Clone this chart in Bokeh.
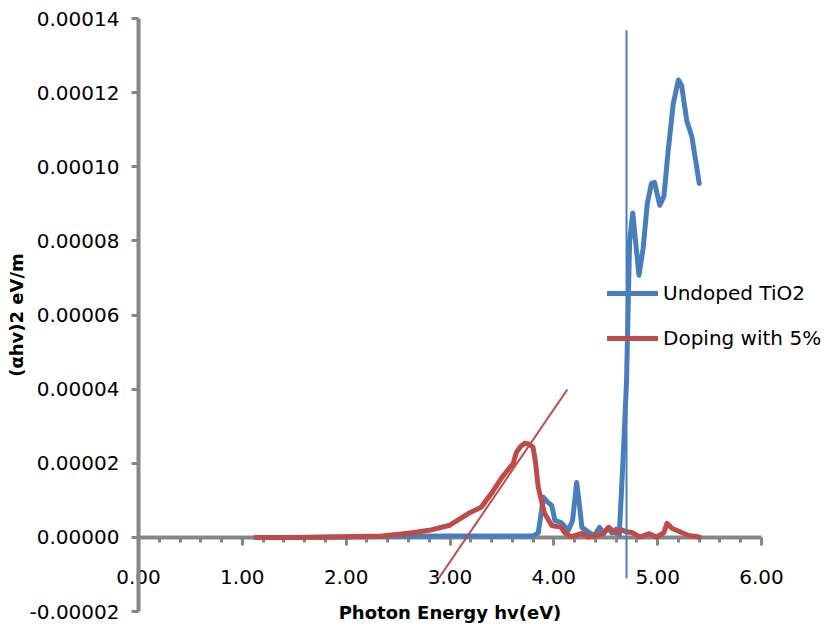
from bokeh.plotting import figure
from bokeh.models import Range1d, FixedTicker, PrintfTickFormatter, Legend, LegendItem
from bokeh.embed import file_html
from bokeh.resources import INLINE

# ---- data ----
undoped_x = [1.13, 1.5, 2.0, 2.5, 3.0, 3.5, 3.80, 3.85, 3.87, 3.90, 3.94, 3.98, 4.01, 4.07,
             4.14, 4.18, 4.22, 4.25, 4.27, 4.34, 4.39, 4.44, 4.48, 4.52, 4.56, 4.60, 4.63,
             4.665, 4.70, 4.73, 4.76, 4.79, 4.82, 4.86, 4.90, 4.94, 4.97, 5.02, 5.06, 5.10,
             5.15, 5.20, 5.23, 5.28, 5.33, 5.37, 5.40]
undoped_y = [0, 0, 0.0000001, 0.0000003, 0.0000004, 0.0000004, 0.0000004, 0.0000012, 0.000005,
             0.0000108, 0.0000095, 0.0000086, 0.0000046, 0.000004, 0.0000019, 0.0000045,
             0.0000148, 0.000008, 0.0000027, 0.0000013, 0.0000005, 0.0000027, 0.000001,
             0.0000025, 0.0000012, 0.0000022, 0.0000005, 0.00002, 0.000042, 0.00008,
             0.0000875, 0.000079, 0.0000707, 0.000078, 0.00009, 0.0000955, 0.0000958,
             0.0000896, 0.000092, 0.000104, 0.000117, 0.0001234, 0.000122, 0.0001125,
             0.000108, 0.000101, 0.0000955]

doped_x = [1.13, 1.5, 2.0, 2.2, 2.34, 2.60, 2.80, 2.99, 3.18, 3.30, 3.40, 3.50, 3.61, 3.64,
           3.68, 3.72, 3.76, 3.80, 3.82, 3.85, 3.91, 3.98, 4.07, 4.11, 4.17, 4.27, 4.33,
           4.40, 4.46, 4.53, 4.59, 4.65, 4.70, 4.75, 4.83, 4.92, 4.99, 5.06, 5.09, 5.14,
           5.23, 5.30, 5.40]
doped_y = [0, 0, 0.0000002, 0.0000003, 0.0000004, 0.0000011, 0.0000019, 0.0000032, 0.0000065,
           0.0000081, 0.0000119, 0.0000162, 0.00002, 0.000023, 0.0000245, 0.0000254,
           0.0000252, 0.0000243, 0.000021, 0.0000135, 0.0000065, 0.0000032, 0.0000027,
           0.0000011, 0.0000002, 0.0000011, 0.0000001, 0.0000005, 0.0000008, 0.0000027,
           0.0000012, 0.000002, 0.0000015, 0.0000013, 0.0000001, 0.000001, 0.0000001,
           0.0000013, 0.0000038, 0.0000024, 0.0000013, 0.0000005, 0.0000001]

# guide lines drawn on the chart
vline_x = [4.70, 4.70]
vline_y = [0.0001368, -0.0000111]
tangent_x = [2.89, 4.13]
tangent_y = [-0.0000111, 0.0000399]

x_ticks = [0, 1, 2, 3, 4, 5, 6]
x_minor = [round(i * 0.2, 1) for i in range(31)]
y_ticks = [-0.00002, 0.0, 0.00002, 0.00004, 0.00006, 0.00008, 0.00010, 0.00012, 0.00014]

BLUE = "#4a7ebb"
RED = "#be4b48"
GRAY = "#868686"
FONT = "DejaVu Sans"

W, H = 825, 633
# plot area (axes box) in the picture: x 0..6 -> px 137..760, y -0.00002..0.00014 -> px 611..18
PX_X = (760 - 137) / 6.0
PX_Y = (611 - 18) / 0.00016
x_rng = Range1d(0 - 138 / PX_X, 6 + (W - 761) / PX_X)
y_rng = Range1d(-0.00002 - (H - 611) / PX_Y, 0.00014 + 18 / PX_Y)

p = figure(width=W, height=H, output_backend="svg", toolbar_location=None,
           x_range=x_rng, y_range=y_rng, min_border=0)
p.outline_line_color = None
p.xgrid.visible = False
p.ygrid.visible = False
p.background_fill_color = "white"
p.border_fill_color = "white"

# x axis crossing at y = 0
xa = p.xaxis[0]
xa.fixed_location = 0
xa.bounds = (0, 6)
xa.level = "underlay"
xa.ticker = FixedTicker(ticks=x_ticks, minor_ticks=x_minor)
xa.formatter = PrintfTickFormatter(format="%.2f")
xa.axis_line_color = GRAY
xa.axis_line_width = 4
xa.major_tick_line_color = GRAY
xa.major_tick_line_width = 3
xa.major_tick_out = 8
xa.major_tick_in = 0
xa.minor_tick_line_color = GRAY
xa.minor_tick_line_width = 3
xa.minor_tick_out = 5
xa.minor_tick_in = 0
xa.major_label_standoff = 25
xa.major_label_text_font = FONT
xa.major_label_text_font_size = "20px"
xa.major_label_text_color = "black"
xa.axis_label = "Photon Energy hv(eV)"
xa.axis_label_text_font = FONT
xa.axis_label_text_font_style = "bold"
xa.axis_label_text_font_size = "18px"
xa.axis_label_text_color = "black"
xa.axis_label_standoff = 14

# y axis at x = 0
ya = p.yaxis[0]
ya.fixed_location = 0
ya.bounds = (-0.00002, 0.00014)
ya.level = "underlay"
ya.ticker = FixedTicker(ticks=y_ticks, minor_ticks=[])
ya.formatter = PrintfTickFormatter(format="%.5f")
ya.axis_line_color = GRAY
ya.axis_line_width = 4
ya.major_tick_line_color = GRAY
ya.major_tick_line_width = 3
ya.major_tick_out = 7
ya.major_tick_in = 0
ya.minor_tick_line_color = None
ya.major_label_standoff = 12
ya.major_label_text_font = FONT
ya.major_label_text_font_size = "20px"
ya.major_label_text_color = "black"
ya.axis_label = "(αhv)2 eV/m"
ya.axis_label_text_font = FONT
ya.axis_label_text_font_style = "bold"
ya.axis_label_text_font_size = "18px"
ya.axis_label_text_color = "black"
ya.axis_label_standoff = 0

r_blue = p.line(undoped_x, undoped_y, line_color=BLUE, line_width=5, line_join="round", line_cap="round")
r_red = p.line(doped_x, doped_y, line_color=RED, line_width=5, line_join="round", line_cap="round")
p.line(vline_x, vline_y, line_color=BLUE, line_width=2)
p.line(tangent_x, tangent_y, line_color=RED, line_width=2)

legend = Legend(items=[LegendItem(label="Undoped TiO2", renderers=[r_blue]),
                       LegendItem(label="Doping with 5%", renderers=[r_red])],
                location=(607, 283))
legend.border_line_color = None
legend.background_fill_alpha = 0
legend.padding = 0
legend.margin = 0
legend.glyph_width = 51
legend.glyph_height = 20
legend.label_height = 20
legend.label_standoff = 5
legend.spacing = 21
legend.label_text_font = FONT
legend.label_text_font_size = "20px"
legend.label_text_color = "black"
p.add_layout(legend, "center")

open("out.html", "w").write(file_html(p, INLINE))
